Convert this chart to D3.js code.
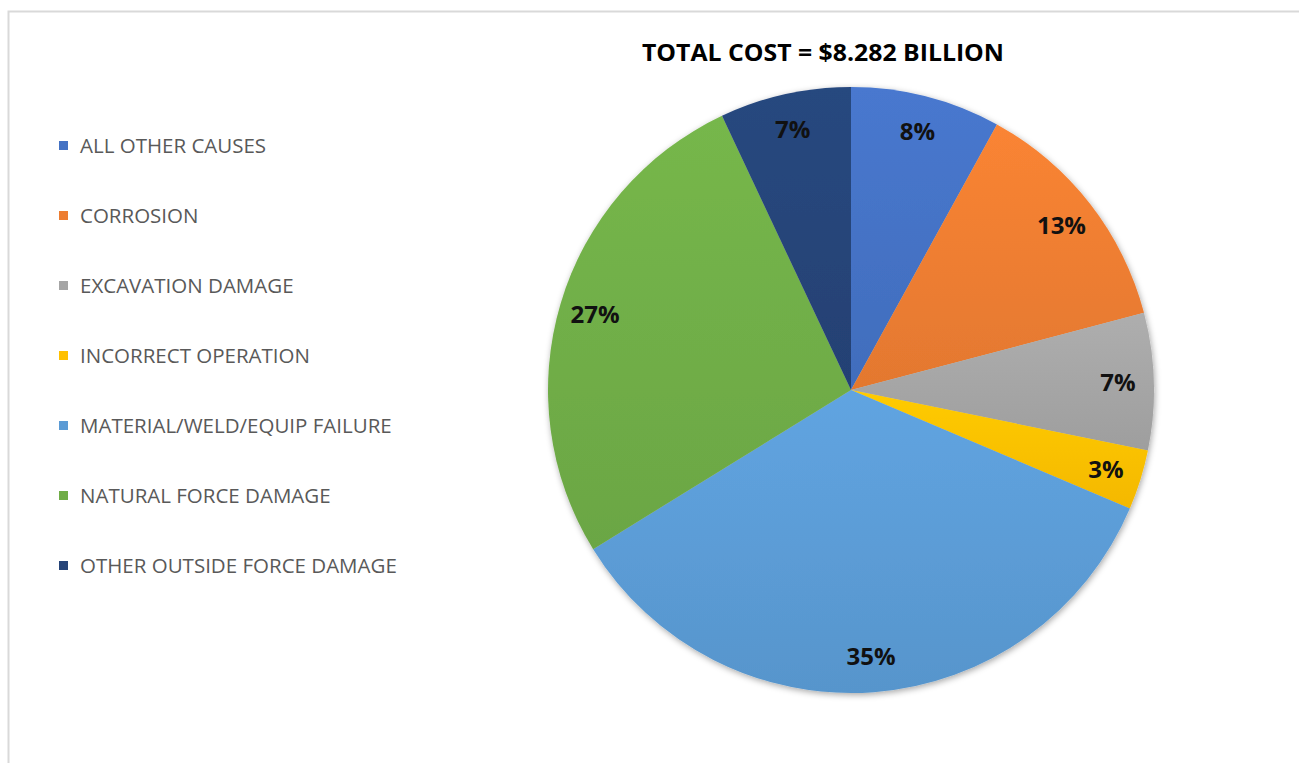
<!DOCTYPE html>
<html>
<head>
<meta charset="utf-8">
<script src="https://cdn.jsdelivr.net/npm/d3@7"></script>
<style>
    body { margin: 0; background: #fff; }
    svg { display: block; }
</style>
</head>
<body>
<svg id="chart" width="1299" height="763"></svg>
<script>
// chart data
var causes = ["ALL OTHER CAUSES", "CORROSION", "EXCAVATION DAMAGE",
    "INCORRECT OPERATION", "MATERIAL/WELD/EQUIP FAILURE",
    "NATURAL FORCE DAMAGE", "OTHER OUTSIDE FORCE DAMAGE"];
var shares = [8.0, 12.9, 7.3, 3.2, 34.8, 26.8, 7.0];
var labels = ["8%", "13%", "7%", "3%", "35%", "27%", "7%"];
var colors = ["#4472C4", "#ED7D31", "#A5A5A5", "#FFC000", "#5B9BD5", "#70AD47", "#264478"];
var title = "TOTAL COST = $8.282 BILLION";

var svg = d3.select("#chart");
var W = 1299, H = 763;
var cx = 851, cy = 390, radius = 303;

var defs = svg.append("defs");

// soft shadow around the pie
var shadow = defs.append("filter").attr("id", "shadow")
    .attr("x", "-10%").attr("y", "-10%").attr("width", "120%").attr("height", "120%");
shadow.append("feDropShadow")
    .attr("dx", 1).attr("dy", 2).attr("stdDeviation", 3)
    .attr("flood-color", "#000").attr("flood-opacity", 0.35);

// slight vertical gradient on each slice
colors.forEach(function(c, i) {
    var g = defs.append("linearGradient").attr("id", "grad" + i)
        .attr("x1", 0).attr("y1", 0).attr("x2", 0).attr("y2", 1);
    g.append("stop").attr("offset", "0%").attr("stop-color", d3.color(c).brighter(0.15));
    g.append("stop").attr("offset", "100%").attr("stop-color", d3.color(c).darker(0.12));
});

// frame
svg.append("path")
    .attr("d", `M8.5,${H} V11.5 H${W}`)
    .attr("fill", "none").attr("stroke", "#d9d9d9").attr("stroke-width", 2);

// title
svg.append("text")
    .attr("x", 823).attr("y", 61)
    .attr("text-anchor", "middle")
    .style("font-family", "'Open Sans', sans-serif")
    .style("font-weight", "bold")
    .style("font-size", "23px")
    .style("fill", "#000")
    .attr("textLength", 362).attr("lengthAdjust", "spacingAndGlyphs")
    .text(title);

// pie
var pie = d3.pie().sort(null).value(function(d) { return d; });
var arcs = pie(shares);
var arc = d3.arc().innerRadius(0).outerRadius(radius);
var labelArc = d3.arc().innerRadius(267).outerRadius(267);

var g = svg.append("g").attr("transform", `translate(${cx},${cy})`);

g.append("g").attr("filter", "url(#shadow)")
    .selectAll("path")
    .data(arcs)
    .enter()
    .append("path")
    .attr("d", arc)
    .attr("fill", function(d, i) { return "url(#grad" + i + ")"; });

g.selectAll("text.lbl")
    .data(arcs)
    .enter()
    .append("text")
    .attr("class", "lbl")
    .attr("transform", function(d) { return `translate(${labelArc.centroid(d)})`; })
    .attr("text-anchor", "middle")
    .attr("dy", "0.36em")
    .style("font-family", "'Open Sans', sans-serif")
    .style("font-weight", "bold")
    .style("font-size", "24px")
    .style("fill", "#111")
    .text(function(d, i) { return labels[i]; });

// legend
var legend = svg.append("g").attr("transform", "translate(59,146)");
var rowGap = 70;
var items = legend.selectAll("g")
    .data(causes)
    .enter()
    .append("g")
    .attr("transform", function(d, i) { return `translate(0,${i * rowGap})`; });

items.append("rect")
    .attr("x", 0).attr("y", -5)
    .attr("width", 9).attr("height", 9)
    .attr("fill", function(d, i) { return colors[i]; });

items.append("text")
    .attr("x", 21).attr("y", 0)
    .attr("dy", "0.36em")
    .style("font-family", "'Open Sans', sans-serif")
    .style("font-size", "20.5px")
    .style("fill", "#595959")
    .text(function(d) { return d; });
</script>
</body>
</html>
